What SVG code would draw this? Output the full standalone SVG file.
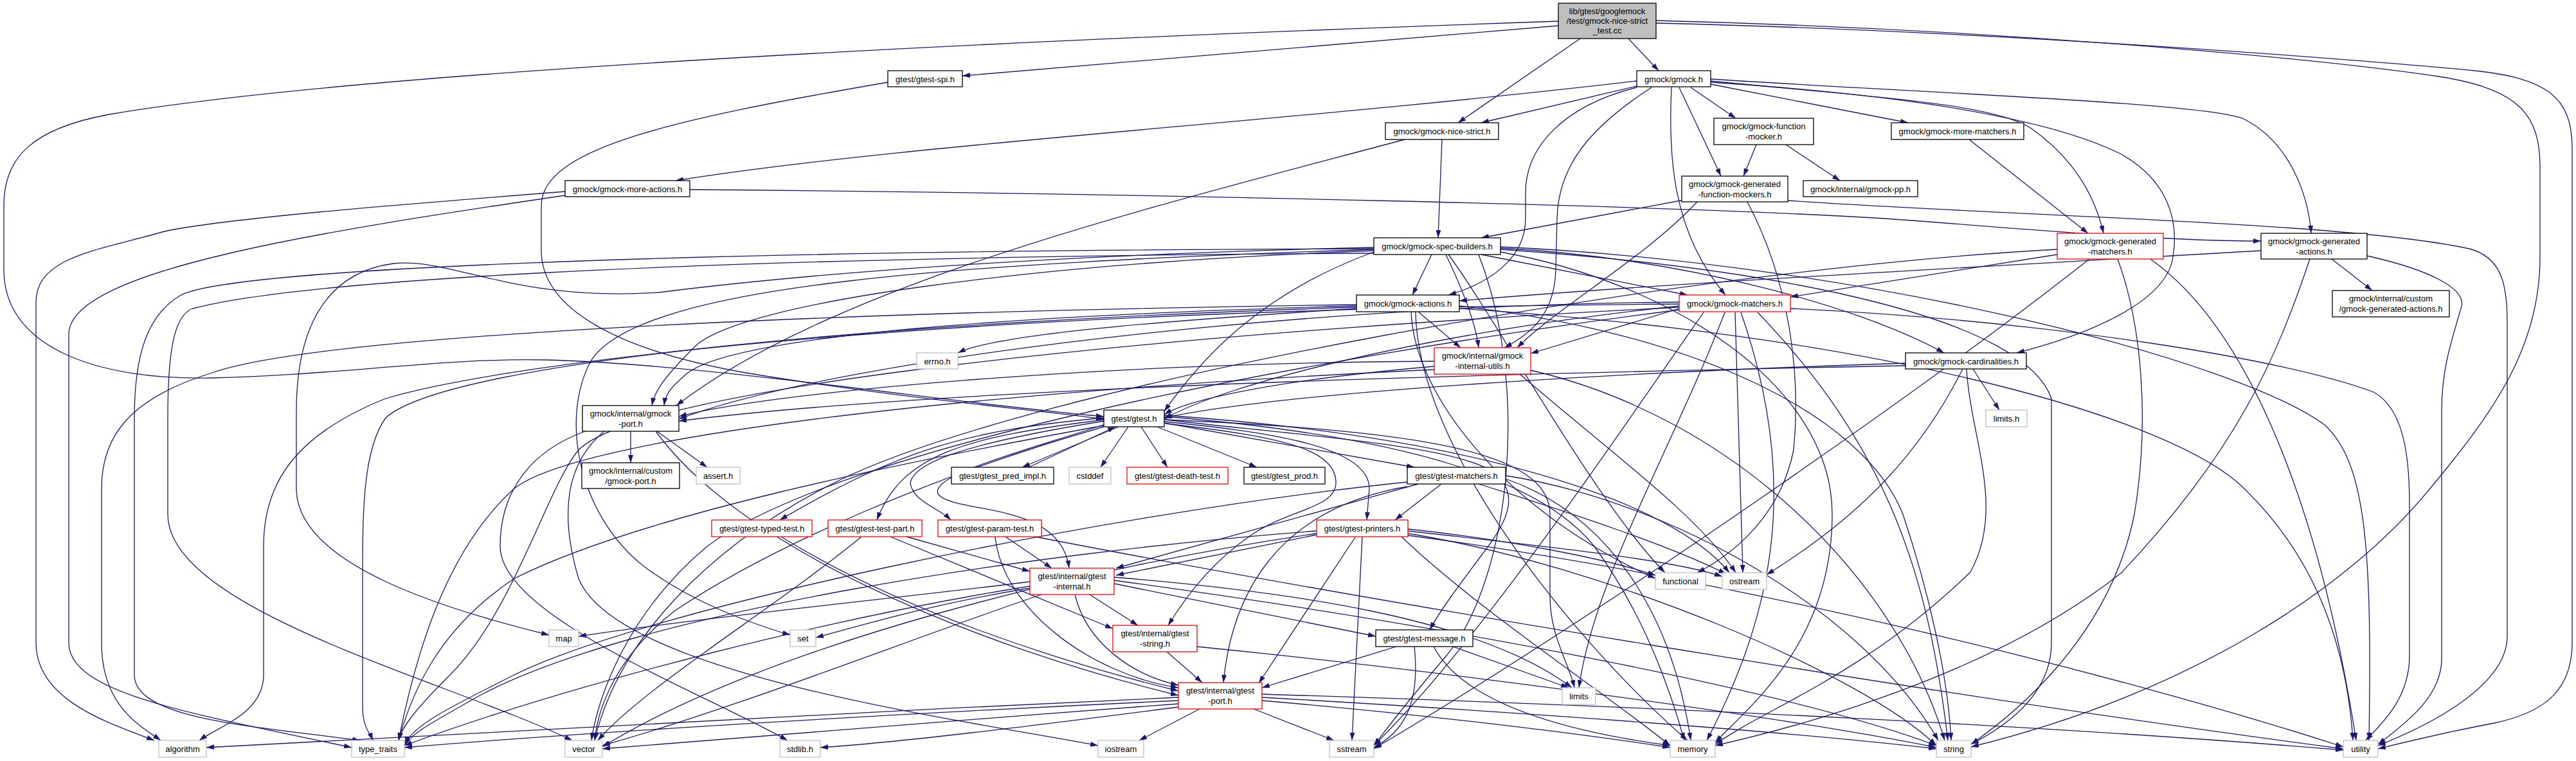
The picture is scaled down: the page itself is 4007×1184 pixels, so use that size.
<svg xmlns="http://www.w3.org/2000/svg" width="4007" height="1184" viewBox="0 0 4007 1184">
<style>
.n rect{fill:#ffffff;stroke:#000000;stroke-width:1.3}
.n.r rect{stroke:#ff0000}
.n.g rect{stroke:#bfbfbf}
.n.root rect{fill:#bfbfbf}
.n text{font-family:"Liberation Sans",Arial,sans-serif;font-size:13px;fill:#000000;text-anchor:middle}
#edges path{fill:none;stroke:#191970;stroke-width:1.3;marker-end:url(#a)}
</style>
<defs>
<marker id="a" viewBox="0 0 12 8" refX="12" refY="4" markerWidth="12" markerHeight="8" markerUnits="userSpaceOnUse" orient="auto"><path d="M0,0 L12,4 L0,8 z" fill="#191970"/></marker>
</defs>
<rect width="4007" height="1184" fill="#ffffff"/>
<g id="edges">
<path d="M2424,40 L1497,118"/>
<path d="M2533,60 L2580,110"/>
<path d="M2458,60 L2268,191"/>
<path d="M2424,33 C1700,58 600,105 170,178 C50,200 6,245 6,320 L6,420 C6,540 150,592 330,588 C520,584 700,556 850,560 C1100,566 1500,630 1717,648"/>
<path d="M2576,32 C3100,45 3600,90 3800,120 C3920,140 3951,180 3951,260 L3951,400 C3951,540 3880,640 3780,760 C3650,920 3400,1080 3066,1162"/>
<path d="M2576,36 C3100,48 3700,95 3850,110 C3960,122 4001,150 4001,230 L4001,1000 C4001,1080 3950,1110 3880,1125 C3800,1140 3740,1155 3699,1165"/>
<path d="M1381,128 C1050,185 842,230 842,320 L842,390 C842,480 960,545 1160,580 C1400,620 1600,636 1717,652"/>
<path d="M2546,134 L2304,191"/>
<path d="M2546,126 C2000,190 1400,225 1051,281"/>
<path d="M2546,136 C2430,165 2373,230 2373,300 L2373,340 C2373,400 2320,440 2253,459"/>
<path d="M2569,136 C2470,200 2424,260 2422,340 L2420,420 C2418,490 2380,520 2340,541"/>
<path d="M2600,136 C2595,240 2600,360 2684,459"/>
<path d="M2612,136 L2677,274"/>
<path d="M2630,136 L2700,184"/>
<path d="M2661,131 L2968,191"/>
<path d="M2661,126 C2900,150 3100,160 3160,200 C3230,250 3260,310 3272,363"/>
<path d="M2661,123 C3000,145 3430,160 3490,185 C3560,220 3590,300 3595,363"/>
<path d="M2661,128 C3000,150 3200,190 3300,240 C3370,280 3390,340 3380,400 C3370,470 3250,520 3137,549"/>
<path d="M2243,217 L2237,370"/>
<path d="M2185,217 C1800,320 1300,440 1052,631"/>
<path d="M2732,225 L2712,274"/>
<path d="M2778,225 L2862,281"/>
<path d="M3063,217 L3248,363"/>
<path d="M1073,295 C1700,300 2700,320 3000,345 C3250,365 3400,375 3517,375"/>
<path d="M879,298 C600,320 350,340 256,360 C150,390 56,400 56,470 L56,1000 C56,1090 170,1125 240,1152"/>
<path d="M879,304 C500,360 107,420 107,520 L107,1000 C107,1080 300,1110 547,1163"/>
<path d="M2625,310 L2304,370"/>
<path d="M2640,314 C2560,400 2420,480 2360,541"/>
<path d="M2718,314 C2790,450 2800,600 2790,700 C2770,800 2700,860 2640,891"/>
<path d="M2781,312 C3100,335 3650,345 3841,387 C3890,400 3900,440 3900,500 L3900,990 C3900,1060 3800,1120 3699,1160"/>
<path d="M2227,396 L2197,459"/>
<path d="M2249,396 C2275,450 2295,500 2300,541"/>
<path d="M2304,396 L2625,459"/>
<path d="M2334,386 C2600,400 2880,470 3024,549"/>
<path d="M2253,396 C2330,500 2480,780 2590,891"/>
<path d="M2334,392 C2600,440 2850,600 2850,800 C2850,1000 2720,1100 2668,1155"/>
<path d="M2334,388 C2800,420 3150,500 3191,620 L3191,1000 C3191,1080 3120,1130 3066,1158"/>
<path d="M2334,384 C2900,410 3480,560 3616,661 C3680,720 3690,850 3685,1152"/>
<path d="M2137,392 C1950,460 1860,570 1811,640"/>
<path d="M2137,390 C1600,410 1150,470 1080,540 C1030,590 1018,610 1014,631"/>
<path d="M2137,385 C1700,395 1300,420 1025,455 C800,470 700,400 612,410 C500,425 461,520 461,640 L461,760 C461,880 700,950 854,988"/>
<path d="M2137,388 C1500,410 1000,440 920,560 C870,650 900,800 1000,880 C1080,940 1170,970 1229,988"/>
<path d="M2300,396 C2380,600 2350,900 2250,1020 C2190,1090 2160,1130 2137,1160"/>
<path d="M2137,387 C1000,390 350,420 280,460 C230,490 209,550 209,650 L209,1050 C209,1120 400,1130 560,1152"/>
<path d="M2137,394 C1000,400 450,440 300,480 C270,490 261,550 261,650 L261,800 C261,950 700,1060 890,1152"/>
<path d="M2110,480 C1800,500 1550,520 1490,549"/>
<path d="M2206,485 L2272,541"/>
<path d="M2110,476 C1600,490 1150,520 1070,580 C1040,605 1035,615 1033,631"/>
<path d="M2110,474 C1300,485 500,520 330,580 C200,620 158,680 158,760 L158,1000 C158,1100 220,1130 250,1152"/>
<path d="M2110,478 C1400,500 700,560 600,650 C564,700 564,800 564,900 L564,1100 C564,1130 575,1140 580,1152"/>
<path d="M2195,485 C2200,620 2350,800 2575,900"/>
<path d="M2202,485 C2205,700 2450,1000 2625,1152"/>
<path d="M2270,476 C2650,520 2900,650 2960,800 C3000,920 3030,1050 3035,1152"/>
<path d="M2270,480 C2900,520 3350,640 3480,750 C3600,860 3650,1000 3660,1152"/>
<path d="M2231,570 C2000,590 1850,620 1811,645"/>
<path d="M2231,562 C1700,565 1200,610 1056,648"/>
<path d="M2231,575 C1500,610 900,680 800,760 C700,850 650,1000 620,1152"/>
<path d="M2364,582 C2500,700 2640,800 2700,891"/>
<path d="M2381,576 C2700,650 2950,900 3025,1152"/>
<path d="M2612,480 L2381,550"/>
<path d="M2612,476 C2200,520 1900,600 1811,652"/>
<path d="M2612,470 C2000,475 1300,560 1056,652"/>
<path d="M2612,473 C1500,480 800,560 600,620 C450,680 410,760 410,850 L410,1050 C410,1110 340,1130 310,1152"/>
<path d="M2683,486 C2600,700 2480,900 2456,1070"/>
<path d="M2708,486 C2800,750 2760,950 2655,1152"/>
<path d="M2699,486 L2711,891"/>
<path d="M2650,486 C2500,700 2300,1000 2137,1160"/>
<path d="M2734,486 C2940,700 3000,900 3030,1152"/>
<path d="M2612,478 C1800,520 1000,600 900,700 C850,760 800,950 700,1050 C650,1100 625,1130 620,1152"/>
<path d="M2785,480 C3200,500 3560,560 3692,610 C3748,640 3748,740 3748,800 L3748,1020 C3748,1090 3700,1130 3680,1152"/>
<path d="M2612,482 C2000,560 1300,700 1100,850 C980,950 930,1080 920,1152"/>
<path d="M3200,396 L2785,462"/>
<path d="M3294,403 C3330,500 3345,650 3320,800 C3280,1000 3120,1120 3066,1158"/>
<path d="M3345,403 C3503,515 3610,800 3665,1152"/>
<path d="M3200,388 C2600,420 1600,600 1300,750 C1100,850 960,1000 925,1152"/>
<path d="M3250,403 C3000,600 2500,950 2137,1165"/>
<path d="M3517,390 C3000,420 2600,440 2270,468"/>
<path d="M3627,403 L3690,452"/>
<path d="M3593,403 C3540,560 3480,700 3300,891 C3100,1050 2800,1130 2668,1160"/>
<path d="M3682,398 C3780,420 3840,450 3828,480 C3810,540 3798,580 3798,640 L3798,1025 C3798,1080 3750,1120 3699,1158"/>
<path d="M3069,574 L3110,638"/>
<path d="M3053,574 C2990,700 2900,800 2748,894"/>
<path d="M3059,574 C3065,680 3120,790 3065,890 C2900,1050 2750,1100 2668,1158"/>
<path d="M2964,565 C2500,580 2000,610 1811,650"/>
<path d="M2964,569 C2400,580 1500,600 1056,655"/>
<path d="M981,671 L981,720"/>
<path d="M1022,671 L1100,727"/>
<path d="M910,671 C830,700 778,760 778,850 C778,960 1100,1080 1225,1152"/>
<path d="M940,671 C880,720 870,800 900,900 C960,1050 1500,1120 1708,1160"/>
<path d="M1020,671 C1150,850 1500,1000 1833,1082"/>
<path d="M1740,664 L1590,727"/>
<path d="M1600,727 L1735,664"/>
<path d="M1755,664 L1712,727"/>
<path d="M1775,664 L1816,727"/>
<path d="M1800,664 L1955,727"/>
<path d="M1811,658 L2200,727"/>
<path d="M1811,656 C1950,670 2130,690 2130,760 L2126,809"/>
<path d="M1811,653 C2050,680 2283,695 2330,740 C2370,780 2330,830 2300,870 C2270,910 2240,950 2224,980"/>
<path d="M1718,653 C1500,680 1403,707 1364,809"/>
<path d="M1718,655 C1500,690 1420,720 1416,752 C1420,780 1460,790 1479,809"/>
<path d="M1717,650 C1500,670 1400,700 1213,809"/>
<path d="M1719,660 C1600,700 1440,740 1460,770 C1490,800 1650,780 1663,884"/>
<path d="M1813,659 C2000,680 2080,700 2078,753 C2075,790 2009,792 1950,830 C1890,870 1850,920 1817,973"/>
<path d="M1813,653 C2200,670 2411,700 2411,800 L2411,927 C2411,990 2440,1030 2449,1070"/>
<path d="M1811,648 C2200,680 2400,750 2480,850 C2560,960 2600,1080 2620,1152"/>
<path d="M1811,646 C2300,680 2600,780 2690,891"/>
<path d="M1717,662 C1400,720 1000,800 800,900 C680,980 640,1080 620,1152"/>
<path d="M1717,664 C1450,740 1200,850 1050,950 C960,1020 930,1100 925,1152"/>
<path d="M2242,753 L2170,809"/>
<path d="M2206,753 L1736,884"/>
<path d="M2189,757 C1984,792 1916,927 1903,1062"/>
<path d="M2342,745 C2500,800 2600,950 2630,1152"/>
<path d="M2300,753 C2450,800 2600,850 2685,893"/>
<path d="M2342,740 C2600,780 2900,950 3015,1152"/>
<path d="M2189,750 C1700,800 1000,950 800,1050 C700,1100 640,1130 630,1158"/>
<path d="M2048,832 L1736,895"/>
<path d="M2108,836 L1958,1063"/>
<path d="M2190,823 C2350,840 2500,870 2575,895"/>
<path d="M2190,826 C2400,850 2600,870 2679,897"/>
<path d="M2119,835 L2103,1152"/>
<path d="M2180,835 C2300,950 2500,1080 2598,1160"/>
<path d="M2190,830 C2500,880 2900,1050 3012,1160"/>
<path d="M2190,833 C2700,900 3300,1050 3645,1162"/>
<path d="M2048,826 C1600,860 1000,950 750,1080 C680,1120 640,1140 629,1160"/>
<path d="M2048,830 C1700,880 1200,1000 937,1162"/>
<path d="M1564,835 L1636,884"/>
<path d="M1548,835 C1560,950 1700,1050 1833,1070"/>
<path d="M1610,835 C2100,930 3000,1080 3645,1165"/>
<path d="M1410,835 L1602,889"/>
<path d="M1385,835 L1731,978"/>
<path d="M1340,835 C1200,950 1000,1070 930,1152"/>
<path d="M1215,835 C1400,950 1650,1030 1833,1075"/>
<path d="M1695,925 L1770,973"/>
<path d="M1672,925 C1690,1000 1760,1050 1833,1066"/>
<path d="M1733,908 L2140,990"/>
<path d="M1733,898 C2000,920 2300,960 2445,1070"/>
<path d="M1733,903 C2300,980 2800,1080 3012,1160"/>
<path d="M1602,905 C1400,930 1100,960 900,990"/>
<path d="M1602,915 C1450,940 1350,970 1269,992"/>
<path d="M1602,912 C1300,960 900,1060 629,1160"/>
<path d="M1620,925 C1400,1000 1150,1100 937,1160"/>
<path d="M1815,1014 L1870,1062"/>
<path d="M1862,1006 C2300,1050 2800,1120 3012,1163"/>
<path d="M2172,1006 L1963,1070"/>
<path d="M2260,1006 L2440,1070"/>
<path d="M2230,1006 C2280,1100 2450,1140 2598,1160"/>
<path d="M2200,1006 C2210,1100 2180,1140 2137,1163"/>
<path d="M1866,1103 L1772,1152"/>
<path d="M1950,1103 L2075,1152"/>
<path d="M1963,1090 C2200,1110 2450,1140 2598,1163"/>
<path d="M1963,1085 C2400,1110 2800,1140 3012,1165"/>
<path d="M1963,1080 C2600,1100 3200,1130 3645,1167"/>
<path d="M1833,1090 C1400,1110 900,1140 629,1163"/>
<path d="M1833,1095 C1500,1120 1100,1150 937,1165"/>
<path d="M1833,1085 C1300,1110 700,1140 321,1163"/>
<path d="M1833,1100 C1600,1130 1400,1155 1276,1163"/>
</g>
<g id="n_root" class="n root"><rect x="2424" y="5" width="152" height="55"/><text x="2500" y="21.5">lib/gtest/googlemock</text><text x="2500" y="37">/test/gmock-nice-strict</text><text x="2500" y="52">_test.cc</text></g>
<g id="n_spi" class="n"><rect x="1381" y="110" width="116" height="25"/><text x="1439" y="127.5">gtest/gtest-spi.h</text></g>
<g id="n_gmock" class="n"><rect x="2546" y="110" width="115" height="25"/><text x="2603.5" y="127.5">gmock/gmock.h</text></g>
<g id="n_nice" class="n"><rect x="2155" y="191" width="176" height="26"/><text x="2243" y="208.5">gmock/gmock-nice-strict.h</text></g>
<g id="n_fmocker" class="n"><rect x="2666" y="184" width="155" height="41"/><text x="2743.5" y="201">gmock/gmock-function</text><text x="2743.5" y="216.5">-mocker.h</text></g>
<g id="n_moremat" class="n"><rect x="2942" y="191" width="206" height="26"/><text x="3045" y="208.5">gmock/gmock-more-matchers.h</text></g>
<g id="n_moreact" class="n"><rect x="879" y="281" width="194" height="25"/><text x="976" y="298.5">gmock/gmock-more-actions.h</text></g>
<g id="n_genfm" class="n"><rect x="2616" y="274" width="165" height="40"/><text x="2698.5" y="291">gmock/gmock-generated</text><text x="2698.5" y="306.5">-function-mockers.h</text></g>
<g id="n_pp" class="n"><rect x="2805" y="281" width="178" height="25"/><text x="2894" y="298.5">gmock/internal/gmock-pp.h</text></g>
<g id="n_spec" class="n"><rect x="2137" y="370" width="197" height="26"/><text x="2235.5" y="387.5">gmock/gmock-spec-builders.h</text></g>
<g id="n_genmat" class="n r"><rect x="3200" y="363" width="165" height="40"/><text x="3282.5" y="380">gmock/gmock-generated</text><text x="3282.5" y="395.5">-matchers.h</text></g>
<g id="n_genact" class="n"><rect x="3517" y="363" width="165" height="40"/><text x="3599.5" y="380">gmock/gmock-generated</text><text x="3599.5" y="395.5">-actions.h</text></g>
<g id="n_actions" class="n"><rect x="2110" y="459" width="160" height="26"/><text x="2190" y="476.5">gmock/gmock-actions.h</text></g>
<g id="n_matchers" class="n r"><rect x="2612" y="459" width="173" height="26"/><text x="2698.5" y="476.5">gmock/gmock-matchers.h</text></g>
<g id="n_customga" class="n"><rect x="3628" y="452" width="182" height="41"/><text x="3719" y="469">gmock/internal/custom</text><text x="3719" y="484.5">/gmock-generated-actions.h</text></g>
<g id="n_iutils" class="n r"><rect x="2231" y="541" width="150" height="41"/><text x="2306" y="558">gmock/internal/gmock</text><text x="2306" y="573.5">-internal-utils.h</text></g>
<g id="n_errno" class="n g"><rect x="1426" y="549" width="64" height="25"/><text x="1458" y="566.5">errno.h</text></g>
<g id="n_card" class="n"><rect x="2964" y="549" width="188" height="25"/><text x="3058" y="566.5">gmock/gmock-cardinalities.h</text></g>
<g id="n_gport" class="n"><rect x="906" y="631" width="150" height="40"/><text x="981" y="648">gmock/internal/gmock</text><text x="981" y="663.5">-port.h</text></g>
<g id="n_gtest" class="n"><rect x="1717" y="638" width="94" height="26"/><text x="1764" y="655.5">gtest/gtest.h</text></g>
<g id="n_limitsh" class="n g"><rect x="3089" y="638" width="64" height="26"/><text x="3121" y="655.5">limits.h</text></g>
<g id="n_customport" class="n"><rect x="905" y="720" width="152" height="40"/><text x="981" y="737">gmock/internal/custom</text><text x="981" y="752.5">/gmock-port.h</text></g>
<g id="n_assert" class="n g"><rect x="1083" y="727" width="68" height="26"/><text x="1117" y="744.5">assert.h</text></g>
<g id="n_predimpl" class="n"><rect x="1480" y="727" width="159" height="26"/><text x="1559.5" y="744.5">gtest/gtest_pred_impl.h</text></g>
<g id="n_cstddef" class="n g"><rect x="1663" y="727" width="65" height="26"/><text x="1695.5" y="744.5">cstddef</text></g>
<g id="n_death" class="n r"><rect x="1753" y="727" width="157" height="26"/><text x="1831.5" y="744.5">gtest/gtest-death-test.h</text></g>
<g id="n_prod" class="n"><rect x="1935" y="727" width="126" height="26"/><text x="1998" y="744.5">gtest/gtest_prod.h</text></g>
<g id="n_gtmatchers" class="n"><rect x="2189" y="727" width="153" height="26"/><text x="2265.5" y="744.5">gtest/gtest-matchers.h</text></g>
<g id="n_typed" class="n r"><rect x="1107" y="809" width="156" height="26"/><text x="1185" y="826.5">gtest/gtest-typed-test.h</text></g>
<g id="n_testpart" class="n r"><rect x="1288" y="809" width="146" height="26"/><text x="1361" y="826.5">gtest/gtest-test-part.h</text></g>
<g id="n_param" class="n r"><rect x="1459" y="809" width="161" height="26"/><text x="1539.5" y="826.5">gtest/gtest-param-test.h</text></g>
<g id="n_printers" class="n r"><rect x="2048" y="809" width="142" height="26"/><text x="2119" y="826.5">gtest/gtest-printers.h</text></g>
<g id="n_ginternal" class="n r"><rect x="1602" y="884" width="131" height="41"/><text x="1667.5" y="901">gtest/internal/gtest</text><text x="1667.5" y="916.5">-internal.h</text></g>
<g id="n_functional" class="n g"><rect x="2575" y="891" width="78" height="26"/><text x="2614" y="908.5">functional</text></g>
<g id="n_ostream" class="n g"><rect x="2679" y="891" width="69" height="26"/><text x="2713.5" y="908.5">ostream</text></g>
<g id="n_map" class="n g"><rect x="854" y="980" width="46" height="26"/><text x="877" y="997.5">map</text></g>
<g id="n_set" class="n g"><rect x="1229" y="980" width="40" height="26"/><text x="1249" y="997.5">set</text></g>
<g id="n_gstring" class="n r"><rect x="1731" y="973" width="131" height="41"/><text x="1796.5" y="990">gtest/internal/gtest</text><text x="1796.5" y="1005.5">-string.h</text></g>
<g id="n_message" class="n"><rect x="2140" y="980" width="151" height="26"/><text x="2215.5" y="997.5">gtest/gtest-message.h</text></g>
<g id="n_gtport" class="n r"><rect x="1833" y="1062" width="130" height="41"/><text x="1898" y="1079">gtest/internal/gtest</text><text x="1898" y="1094.5">-port.h</text></g>
<g id="n_limits" class="n g"><rect x="2430" y="1070" width="52" height="26"/><text x="2456" y="1087.5">limits</text></g>
<g id="n_algorithm" class="n g"><rect x="247" y="1152" width="74" height="26"/><text x="284" y="1169.5">algorithm</text></g>
<g id="n_type_traits" class="n g"><rect x="547" y="1152" width="82" height="26"/><text x="588" y="1169.5">type_traits</text></g>
<g id="n_vector" class="n g"><rect x="879" y="1152" width="58" height="26"/><text x="908" y="1169.5">vector</text></g>
<g id="n_stdlib" class="n g"><rect x="1213" y="1152" width="63" height="26"/><text x="1244.5" y="1169.5">stdlib.h</text></g>
<g id="n_iostream" class="n g"><rect x="1708" y="1152" width="71" height="26"/><text x="1743.5" y="1169.5">iostream</text></g>
<g id="n_sstream" class="n g"><rect x="2068" y="1152" width="69" height="26"/><text x="2102.5" y="1169.5">sstream</text></g>
<g id="n_memory" class="n g"><rect x="2598" y="1152" width="70" height="26"/><text x="2633" y="1169.5">memory</text></g>
<g id="n_string" class="n g"><rect x="3012" y="1152" width="54" height="26"/><text x="3039" y="1169.5">string</text></g>
<g id="n_utility" class="n g"><rect x="3645" y="1152" width="54" height="26"/><text x="3672" y="1169.5">utility</text></g>
</svg>
